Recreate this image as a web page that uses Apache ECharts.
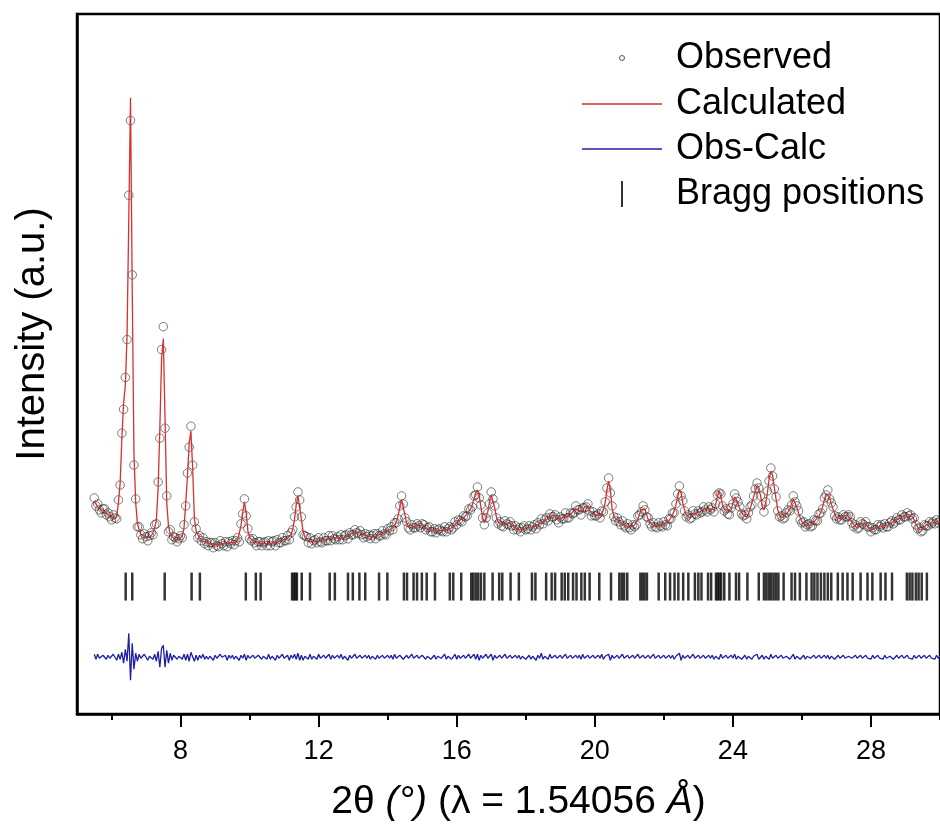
<!DOCTYPE html>
<html>
<head>
<meta charset="utf-8">
<script src="https://cdn.jsdelivr.net/npm/echarts@6/dist/echarts.min.js"></script>
<style>
  html, body { margin: 0; padding: 0; background: #fff; }
  #chart { width: 940px; height: 827px; }
</style>
</head>
<body>
<div id="chart"></div>
<script>
// ---- Data ----
const twoThetaStart = 5.5;   // first 2θ of the scan
const twoThetaStep = 0.05;   // scan step (°)

// Calculated profile (a.u.), one value per step from 5.50° to 30.00°
const calculated = [
  214,211,208,206,205,204,203,202,200,199,198,197,196,199,212,232,277,312,330,380,
  497,619,427,262,212,192,185,181,179,178,177,177,178,179,182,187,195,227,287,357,
  377,297,212,189,181,178,176,175,175,175,176,179,187,212,239,272,284,247,197,184,
  180,177,175,174,173,172,171,171,170,170,170,170,170,171,171,171,171,171,171,172,
  172,172,173,174,176,189,202,213,202,184,177,176,174,173,172,171,171,171,171,171,
  171,171,171,172,172,172,173,173,174,174,175,176,177,178,180,186,195,210,219,218,
  196,183,178,176,174,174,173,173,173,174,174,174,175,175,175,176,176,176,177,177,
  177,176,176,177,177,178,178,179,180,181,182,182,183,183,182,181,180,179,179,178,
  178,178,178,178,179,180,181,182,182,183,184,185,186,187,189,193,199,207,215,213,
  200,191,188,187,187,188,189,189,190,190,189,188,187,186,185,185,184,184,184,184,
  184,185,185,185,185,185,186,187,188,190,192,193,195,196,197,199,201,203,206,210,
  216,222,225,220,208,198,192,194,203,213,220,219,207,198,193,191,190,190,191,192,
  192,191,190,188,187,186,185,185,186,186,187,187,187,187,187,188,189,190,191,192,
  193,194,195,196,198,199,200,198,196,195,196,197,198,199,198,199,200,202,205,207,
  206,203,202,204,208,210,209,205,202,201,200,201,199,198,201,205,212,225,234,225,
  207,199,196,195,194,192,191,190,189,189,188,188,188,189,192,196,201,205,207,206,
  200,195,192,190,189,189,189,190,190,190,191,191,192,194,197,200,204,210,218,225,
  222,212,205,200,198,197,199,201,202,202,202,203,205,206,206,206,206,206,205,205,
  210,218,224,218,210,206,204,202,202,205,212,218,219,212,206,203,200,198,198,201,
  206,212,218,224,229,229,220,208,205,212,222,236,244,240,228,216,205,200,197,197,
  199,201,203,206,211,216,215,208,202,197,193,191,190,189,189,189,191,193,195,196,
  199,203,208,215,221,223,218,211,206,201,197,196,196,197,198,199,200,199,196,193,
  190,188,187,189,191,192,192,191,189,187,185,185,186,187,188,189,189,189,189,189,
  190,191,192,193,194,195,196,197,198,199,200,200,200,199,198,195,191,188,185,184,
  186,188,190,191,191,192,192,193,193,193,193
];

// Obs - Calc residual (a.u.), same steps
const obsMinusCalc = [
  3,-2,3,-1,-3,2,3,-2,2,-1,-3,3,1,-3,3,-2,5,-6,8,-4,
  24,-23,14,-12,4,-4,3,-1,-3,3,1,-3,1,3,-2,3,-4,6,-10,9,
  12,-10,7,-6,4,-3,2,2,-2,1,3,-2,3,-3,3,-4,5,3,-4,2,
  -3,2,-1,3,-2,1,-2,1,2,-3,2,-1,-2,3,0,-2,2,-3,2,-1,
  2,-2,1,3,-3,2,-1,3,-3,2,-1,-2,2,-1,-3,2,2,-2,1,2,
  -2,3,-2,1,2,-3,2,-1,-2,3,-1,-2,2,-3,2,-1,3,-2,4,-3,
  2,-3,1,2,-2,3,-2,1,2,-2,3,-1,-3,2,-1,-2,3,-2,2,-1,
  -2,2,-1,3,-2,1,2,-3,2,-1,-2,3,-1,-2,2,-1,-3,2,-1,2,
  -2,1,3,-2,2,-1,-2,2,-1,-3,2,-1,2,-2,3,-1,-3,2,4,-2,
  -3,2,-1,-2,3,-1,-2,2,-1,-3,2,2,-2,1,3,-2,-1,2,-2,1,
  2,-1,-2,3,-2,1,2,-2,-1,3,-2,2,-1,-3,2,-1,-2,3,-1,-2,
  3,-2,3,-3,2,-1,-2,3,-1,-2,3,-3,2,-1,-2,2,-1,-2,3,-1,
  -2,2,-1,-3,2,-1,2,-2,1,3,-2,-1,2,-2,1,2,-3,2,-1,4,
  -2,1,2,-2,3,-1,-2,2,-1,-3,2,-1,-2,3,-1,-2,2,-1,-3,2,
  -1,2,-2,3,-1,-2,2,-1,-3,2,-1,-2,2,-1,3,-2,1,2,3,-3,
  2,-1,-2,2,-1,-2,3,-1,-2,2,-1,-3,2,-1,-2,3,-1,-2,2,-1,
  -2,2,-1,-2,3,-1,-2,2,-1,-2,2,-1,-3,2,-1,2,-2,1,3,4,
  -3,2,-1,-2,2,-1,-2,3,-1,-2,2,-1,-2,2,-1,-3,2,-1,2,-2,
  1,2,-2,3,-1,-2,2,-1,-2,2,-1,3,-2,1,2,-2,-1,2,-2,1,
  2,-2,1,2,3,-2,-1,2,-2,1,2,-2,3,-1,-2,2,-1,-2,2,-1,
  -2,1,2,-2,-1,3,-2,1,2,-2,-1,2,-2,1,2,-1,-2,2,-1,-2,
  2,-1,-2,2,-1,2,-2,1,2,-2,-1,2,-1,-2,2,-1,-2,1,2,-1,
  -2,2,-1,-2,2,-1,-2,2,-1,1,-2,2,-1,-2,2,-1,1,-2,2,-1,
  -2,1,2,-2,-1,2,-1,-2,2,-1,-2,2,-1,1,-2,2,-1,-2,2,-1,
  -2,2,-1,-2,2,-1,1,-2,2,-1,1
];
const diffOffset = 57;    // baseline level of the Obs-Calc curve

// Bragg reflection positions (2θ, °)
const braggPositions = [
  6.41,6.60,7.54,8.32,8.56,9.89,10.18,10.32,11.23,11.28,11.33,11.37,11.51,11.75,
  12.32,12.47,12.85,12.99,13.18,13.35,13.75,13.99,14.47,14.56,14.75,14.85,14.99,15.13,
  15.37,15.80,15.90,16.13,16.42,16.48,16.55,16.62,16.70,16.80,17.04,17.23,17.32,17.56,
  17.80,18.18,18.28,18.59,18.75,18.85,19.04,19.13,19.23,19.37,19.47,19.61,19.71,19.85,
  20.13,20.47,20.71,20.78,20.85,20.94,21.32,21.38,21.44,21.51,21.85,22.04,22.18,22.31,
  22.42,22.56,22.71,22.90,23.00,23.09,23.28,23.37,23.51,23.56,23.61,23.66,23.75,23.90,
  24.09,24.18,24.42,24.75,24.90,24.97,25.04,25.11,25.18,25.25,25.32,25.47,25.70,25.80,
  25.94,26.13,26.28,26.36,26.45,26.55,26.65,26.75,26.85,27.04,27.18,27.32,27.47,27.70,
  27.90,28.04,28.28,28.42,28.61,29.04,29.12,29.20,29.30,29.38,29.47,29.62
];
const braggLevel = 128;

const majorTicks = [8, 12, 16, 20, 24, 28];
const minorTicks = [6, 10, 14, 18, 22, 26, 30];

// ---- Build series data ----
const n = Math.min(calculated.length, obsMinusCalc.length);
const obsData = [], calcData = [], diffData = [];
for (let i = 0; i < n; i++) {
  const x = +(twoThetaStart + i * twoThetaStep).toFixed(2);
  calcData.push([x, calculated[i]]);
  obsData.push([x, calculated[i] + obsMinusCalc[i]]);
  diffData.push([x, obsMinusCalc[i] + diffOffset]);
}
const braggData = braggPositions.map(p => [p, braggLevel]);

const FONT = "'Liberation Sans', Arial, Helvetica, sans-serif";
const RED = '#d63030';
const BLUE = '#1f1fa3';

function legendFor(name, icon, itemStyle, itemHeight, left, top) {
  return {
    orient: 'vertical', left: left, top: top, padding: 0,
    itemWidth: 80, itemHeight: itemHeight, selectedMode: false,
    textStyle: { fontSize: 36, color: '#000', fontFamily: FONT, padding: [0, 0, 0, 9] },
    data: [{ name: name, icon: icon, itemStyle: itemStyle }]
  };
}

const chart = echarts.init(document.getElementById('chart'), null, { renderer: 'canvas' });
chart.setOption({
  animation: false,
  backgroundColor: '#fff',
  grid: {
    left: 77, top: 14, right: -14, bottom: 110,
    show: true, borderColor: '#000', borderWidth: 2.5, backgroundColor: 'transparent'
  },
  legend: [
    legendFor('Observed', 'circle', { color: 'transparent', borderColor: '#333', borderWidth: 1 }, 5, 619, 40),
    legendFor('Calculated', 'rect', { color: RED }, 1.5, 582, 86),
    legendFor('Obs-Calc', 'rect', { color: BLUE }, 1.5, 582, 131),
    legendFor('Bragg positions', 'path://M0,0L2,0L2,26L0,26Z', { color: '#000' }, 26, 621, 176)
  ],
  xAxis: [
    {
      type: 'value', min: 5, max: 30, position: 'bottom',
      axisLine: { show: true, lineStyle: { color: '#000', width: 2.5 } },
      axisTick: { show: true, inside: false, length: 13, customValues: majorTicks,
                  lineStyle: { color: '#000', width: 2 } },
      axisLabel: { show: true, customValues: majorTicks, fontSize: 27, color: '#000',
                   fontFamily: FONT, margin: 24 },
      splitLine: { show: false },
      name: '2θ {i|(°)} (λ = 1.54056 {i|Å})',
      nameLocation: 'middle', nameGap: 69,
      nameTextStyle: {
        fontSize: 39, color: '#000', fontFamily: FONT, padding: [0, 0, 0, 20],
        rich: { i: { fontSize: 39, color: '#000', fontFamily: FONT, fontStyle: 'italic' } }
      }
    },
    {
      type: 'value', min: 5, max: 30, position: 'bottom',
      axisLine: { show: false },
      axisTick: { show: true, inside: false, length: 6, customValues: minorTicks,
                  lineStyle: { color: '#000', width: 2 } },
      axisLabel: { show: false },
      splitLine: { show: false }
    }
  ],
  yAxis: {
    type: 'value', min: 0, max: 703,
    axisLine: { show: true, lineStyle: { color: '#000', width: 2.5 } },
    axisTick: { show: false }, axisLabel: { show: false }, splitLine: { show: false },
    name: 'Intensity (a.u.)', nameLocation: 'middle', nameGap: 24,
    nameTextStyle: { fontSize: 40, color: '#000', fontFamily: FONT, padding: [0, 0, 0, 60] }
  },
  series: [
    {
      name: 'Observed', type: 'scatter', xAxisIndex: 0, data: obsData,
      symbol: 'circle', symbolSize: 8.5, z: 2,
      itemStyle: { color: 'rgba(0,0,0,0)', borderColor: 'rgba(30,30,30,0.9)', borderWidth: 0.8 }
    },
    {
      name: 'Calculated', type: 'line', xAxisIndex: 0, data: calcData,
      showSymbol: false, symbol: 'none', z: 3,
      lineStyle: { color: RED, width: 1.3 }, itemStyle: { color: RED }
    },
    {
      name: 'Obs-Calc', type: 'line', xAxisIndex: 0, data: diffData,
      showSymbol: false, symbol: 'none', z: 3,
      lineStyle: { color: BLUE, width: 1.3 }, itemStyle: { color: BLUE }
    },
    {
      name: 'Bragg positions', type: 'scatter', xAxisIndex: 0, data: braggData,
      symbol: 'rect', symbolSize: [2.5, 28], z: 3,
      itemStyle: { color: '#000' }
    }
  ]
});
</script>
</body>
</html>
